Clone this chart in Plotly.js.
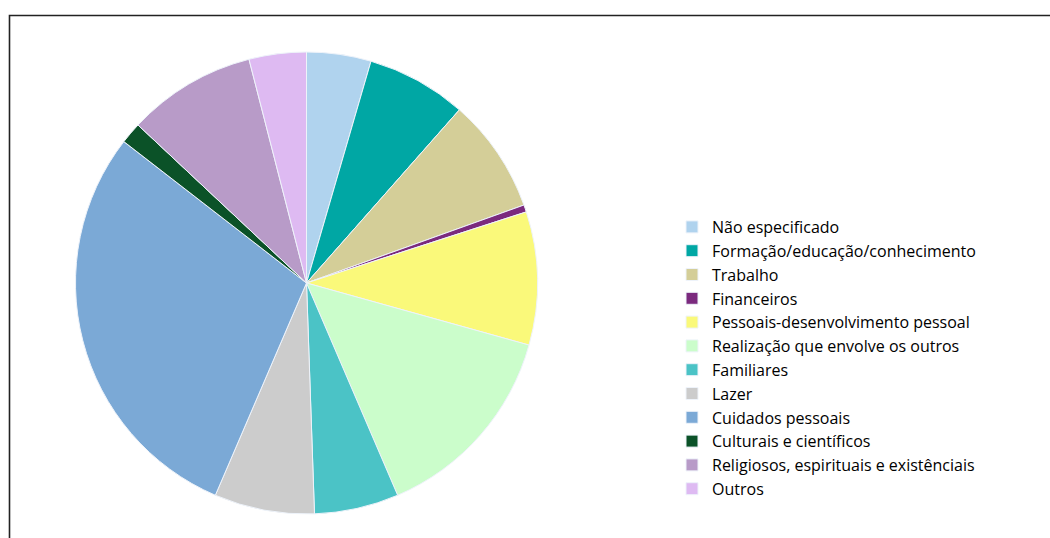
<!DOCTYPE html>
<html>
<head>
<meta charset="utf-8">
<script src="https://cdn.plot.ly/plotly-3.0.1.min.js"></script>
<style>html,body{margin:0;padding:0;background:#fff;}#chart{width:1050px;height:538px;}</style>
</head>
<body>
<div id="chart"></div>
<script>
const categories = [
  "Não especificado",
  "Formação/educação/conhecimento",
  "Trabalho",
  "Financeiros",
  "Pessoais-desenvolvimento pessoal",
  "Realização que envolve os outros",
  "Familiares",
  "Lazer",
  "Cuidados pessoais",
  "Culturais e científicos",
  "Religiosos, espirituais e existênciais",
  "Outros"
];
const values = [4.5, 7.0, 8.0, 0.5, 9.3, 14.2, 5.9, 7.0, 29.0, 1.5, 9.0, 4.0];
const colors = ["#B0D3EE", "#00A7A4", "#D4CE98", "#7B2A7E", "#FAF97A", "#CBFDCB",
                "#4BC3C6", "#CCCCCC", "#7BA9D6", "#0B5228", "#B89BC8", "#DEBAF2"];

const W = 1050, H = 538;
const cx = 306.5, cy = 283, r = 231;

const trace = {
  type: "pie",
  labels: categories,
  values: values,
  sort: false,
  direction: "clockwise",
  rotation: 0,
  textinfo: "none",
  hoverinfo: "label+percent",
  marker: { colors: colors, line: { color: "#EEF3FA", width: 1 } },
  domain: {
    x: [(cx - r) / W, (cx + r) / W],
    y: [1 - (cy + r) / H, 1 - (cy - r) / H]
  }
};

const layout = {
  width: W, height: H,
  margin: { l: 0, r: 0, t: 0, b: 0, pad: 0 },
  paper_bgcolor: "#ffffff",
  showlegend: true,
  legend: {
    x: 672 / W, xanchor: "left",
    y: 1 - 210 / H, yanchor: "top",
    font: { family: "Open Sans, sans-serif", size: 16, color: "#000000" },
    bgcolor: "rgba(0,0,0,0)",
    borderwidth: 0
  },
  shapes: [{
    type: "rect", xref: "paper", yref: "paper",
    x0: 9.5 / W, x1: 1.02, y0: -0.02, y1: 1 - 15.5 / H,
    line: { color: "#222222", width: 1.6 },
    fillcolor: "rgba(0,0,0,0)"
  }]
};

Plotly.newPlot("chart", [trace], layout, { displayModeBar: false, staticPlot: true });
</script>
</body>
</html>
